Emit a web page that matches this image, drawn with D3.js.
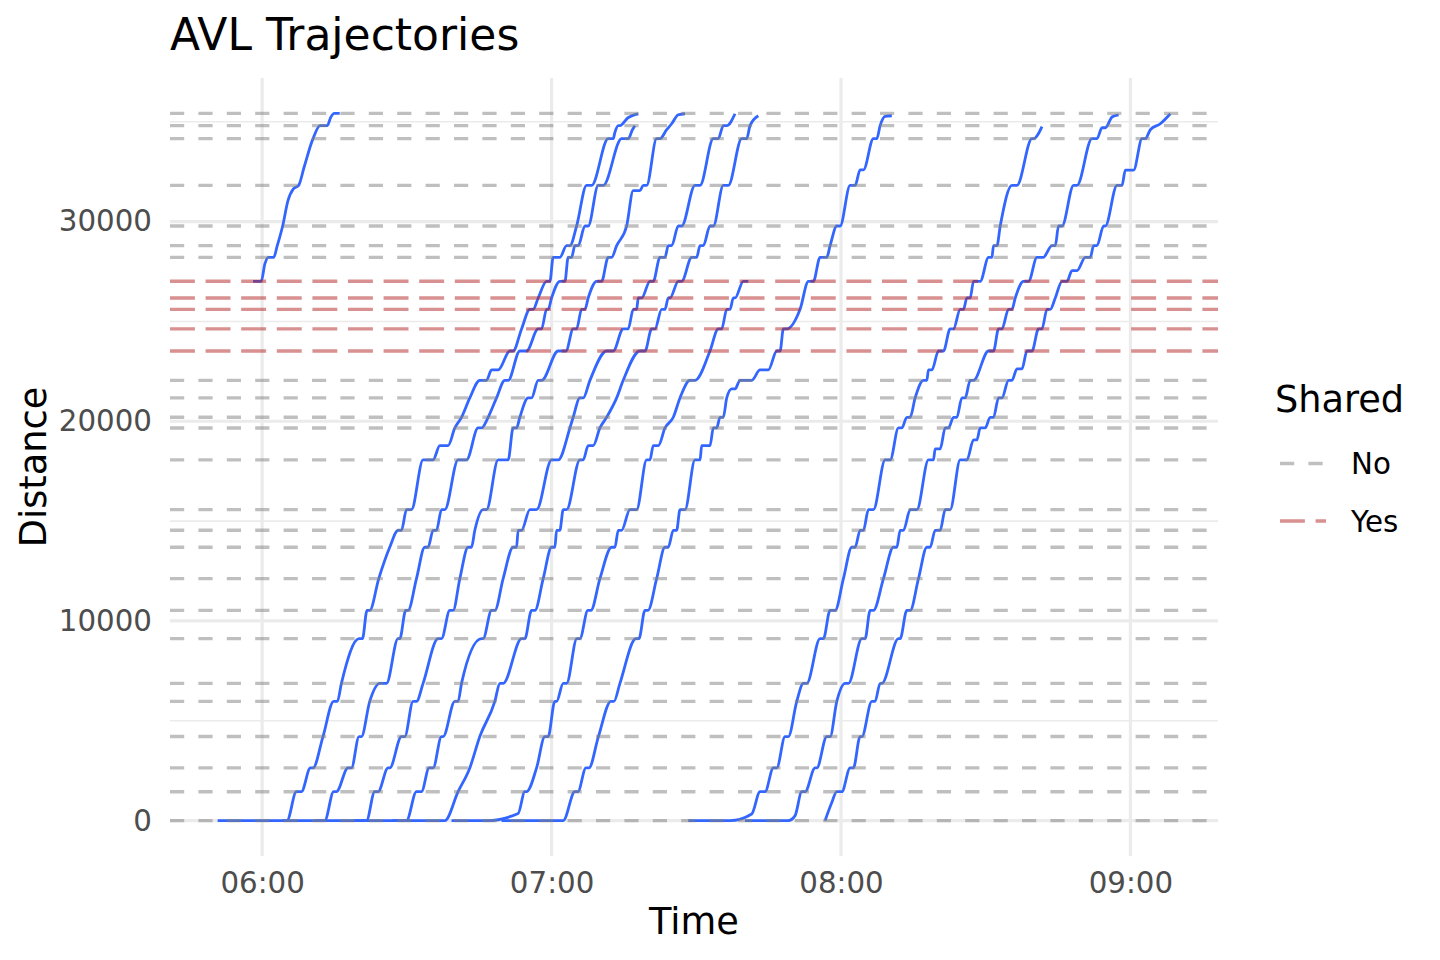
<!DOCTYPE html>
<html>
<head>
<meta charset="utf-8">
<script src="https://cdn.jsdelivr.net/npm/d3@7"></script>
<style>
  body { margin: 0; background: #fff; }
  text { font-family: "DejaVu Sans", sans-serif; }
</style>
</head>
<body>
<div id="chart"></div>
<script>
// stop positions along the route (distance) and whether the stop is shared
var stopDist = [0, 1450, 2640, 4210, 5975, 6875, 9115, 10530, 12120, 13690, 14540, 15575,
  18065, 19665, 20200, 21170, 22050, 23520, 24625, 25605, 26175, 27010,
  28210, 28795, 29780, 31815, 34155, 34805, 35420];
var stopShared = ["No", "No", "No", "No", "No", "No", "No", "No", "No", "No", "No", "No",
  "No", "No", "No", "No", "No", "Yes", "Yes", "Yes", "Yes", "Yes",
  "No", "No", "No", "No", "No", "No", "No"];

var sharedLevels = ["No", "Yes"];
var timeLabels = ["06:00", "07:00", "08:00", "09:00"];
var distTicks = [0, 10000, 20000, 30000];

// AVL trips: [minutes after 06:00, distance]
var trip01 = [[-1.89,27010],[-0.19,27010],[0.56,27880],[1.29,28210],[2.39,28210],[3.13,28795],[4.25,29780],[5.35,31050],[6.47,31640],[7.57,31815],[8.69,32720],[10.54,34155],[12.01,34805],[13.51,34805],[14.21,35220],[14.98,35420],[16.08,35420]];
var trip02 = [[-9.23,0],[5.15,0],[7.10,1450],[8.13,1450],[10.00,2640],[10.54,2640],[12.61,4210],[14.83,5975],[15.60,5975],[16.43,6875],[20.08,9115],[20.79,9115],[21.74,10530],[22.30,10530],[24.17,12120],[26.45,13690],[28.17,14540],[28.88,14540],[29.92,15575],[30.95,15575],[33.36,18065],[35.44,18065],[36.83,18780],[38.55,18780],[39.94,19665],[41.33,20200],[43.05,21170],[45.12,22050],[46.51,22050],[47.55,22570],[48.92,22570],[51.35,23520],[52.03,23520],[53.78,24625],[55.50,25605],[56.18,25605],[57.22,26175],[58.96,27010],[59.65,27010],[60.33,28210],[61.72,28210],[63.11,28795],[63.80,28795],[65.19,29780],[67.26,31815],[68.30,31815],[71.74,34155],[72.78,34155],[73.13,34470],[73.82,34805],[74.17,34805],[75.83,35200],[77.97,35400]];
var trip03 = [[4.25,0],[12.97,0],[14.83,1450],[15.39,1450],[17.80,2640],[18.51,2640],[20.08,4210],[20.58,4210],[22.30,5975],[24.38,6875],[25.77,6875],[28.17,9115],[28.53,9115],[29.77,10530],[30.25,10530],[31.99,12120],[33.71,13690],[34.40,13690],[35.44,14540],[36.14,14540],[37.18,15575],[37.86,15575],[40.62,18065],[42.37,18065],[44.77,19665],[45.48,19665],[46.85,20200],[48.59,21170],[50.31,22050],[51.00,22050],[53.42,23520],[54.81,23520],[57.22,24625],[57.93,24625],[58.96,25605],[59.29,25605],[60.00,26175],[61.72,27010],[62.76,27010],[63.44,28210],[64.15,28210],[64.83,28795],[65.52,28795],[66.91,29780],[67.59,29780],[69.67,31815],[70.71,31815],[74.52,34155],[75.89,34155],[76.76,34600],[77.28,34805]];
var trip04 = [[11.00,0],[21.62,0],[23.34,1450],[24.02,1450],[26.10,2640],[26.45,2640],[28.88,4210],[29.56,4210],[31.29,5975],[31.99,5975],[33.36,6875],[36.47,9115],[37.18,9115],[38.90,10530],[39.59,10530],[40.98,12120],[42.70,13690],[43.40,13690],[44.09,14540],[45.81,15575],[46.51,15575],[48.92,18065],[51.00,18065],[52.03,19665],[52.74,19665],[53.42,20200],[55.15,21170],[55.85,21170],[57.22,22050],[57.93,22050],[61.37,23520],[62.97,23520],[64.48,24625],[65.19,24625],[66.22,25605],[66.91,25605],[67.59,26175],[69.34,27010],[70.37,27010],[71.74,28210],[72.45,28210],[73.49,28795],[75.56,29780],[76.93,31550],[78.32,31550],[79.00,31815],[79.71,31815],[81.78,34155],[82.47,34155],[83.86,34600],[84.90,34900],[86.27,35350],[87.66,35400]];
var trip05 = [[19.00,0],[29.92,0],[31.99,1450],[33.03,1450],[34.61,2640],[35.44,2640],[37.18,4210],[37.51,4210],[39.94,5975],[40.62,5975],[41.33,6875],[45.48,9115],[45.81,9115],[47.55,10530],[48.24,10530],[49.96,12120],[52.03,13690],[52.74,13690],[53.07,14540],[53.78,14540],[55.50,15575],[56.89,15575],[60.00,18065],[61.37,18065],[63.80,19665],[64.48,20200],[65.87,21170],[66.56,21170],[67.95,22050],[71.41,23520],[72.78,23520],[74.85,24625],[75.89,24625],[76.93,25605],[77.63,25605],[77.97,26175],[78.67,26175],[80.39,27010],[81.08,27010],[82.47,28210],[83.51,28210],[84.19,28795],[84.90,28795],[86.27,29780],[86.97,29780],[89.73,31815],[90.77,31815],[93.53,34155],[94.56,34155],[95.60,34805],[96.31,34805],[98.03,35400]];
var trip06 = [[27.00,0],[37.86,0],[40.62,1450],[43.05,2640],[45.12,4210],[48.24,5975],[49.27,6875],[49.96,6875],[53.78,9115],[54.46,9115],[55.85,10530],[56.54,10530],[58.26,12120],[60.00,13690],[60.68,13690],[61.04,14540],[61.72,14540],[62.41,15575],[63.11,15575],[65.87,18065],[66.56,18065],[67.59,18780],[68.63,18780],[70.02,19665],[71.41,20200],[73.49,21170],[74.85,22050],[78.32,23520],[79.36,23520],[80.75,24625],[81.43,24625],[82.82,25605],[83.51,25605],[84.19,26175],[84.54,26175],[86.27,27010],[86.97,27010],[89.05,28210],[90.08,28210],[90.77,28795],[91.45,28795],[92.84,29780],[93.53,29780],[95.60,31815],[96.64,31815],[99.42,34155],[100.46,34155],[101.14,34805],[102.86,35300]];
var trip07 = [[39.25,0],[46.51,0],[53.07,360],[54.46,1450],[54.81,1450],[56.89,2640],[58.61,4210],[59.29,4210],[60.68,5975],[61.04,5975],[62.41,6875],[63.11,6875],[65.25,9115],[65.87,9115],[67.53,10530],[68.15,10530],[70.02,12120],[72.45,13690],[73.13,13690],[73.82,14540],[74.52,14540],[76.24,15575],[77.63,15575],[79.71,18065],[80.39,18065],[81.08,18780],[82.12,18780],[83.51,19665],[85.23,20200],[86.62,21170],[88.69,22050],[89.73,22050],[92.84,23520],[94.56,24625],[95.27,24625],[96.31,25605],[96.99,25605],[97.68,26175],[98.03,26175],[99.75,27010],[100.79,27010]];
var trip08 = [[49.63,0],[62.41,0],[64.83,1450],[65.46,1450],[67.12,2640],[67.74,2640],[69.71,4210],[72.30,5975],[72.93,5975],[74.17,6875],[77.49,9115],[78.11,9115],[79.36,10530],[79.98,10530],[81.78,12120],[83.51,13690],[84.19,13690],[85.23,14540],[85.93,14540],[86.62,15575],[87.66,15575],[89.73,18065],[90.77,18065],[91.12,18780],[92.84,18780],[93.53,19665],[94.23,19665],[94.92,20200],[95.60,20200],[96.31,21170],[97.34,21620],[98.03,21620],[99.07,22050],[101.49,22050],[103.22,22570],[104.94,22570],[106.68,23520],[107.37,23520],[108.05,24625],[108.76,24625],[111.51,25605],[113.24,27010],[114.27,27010],[115.66,28210],[117.05,28210],[117.74,28795],[119.13,29780],[119.81,29780],[121.89,31815],[122.93,31815],[123.96,32590],[124.65,32590],[126.72,34155],[127.43,34155],[128.11,34805],[129.15,35270],[130.54,35300]];
var trip09 = [[88.34,0],[96.99,0],[101.49,335],[103.22,1450],[104.25,1450],[105.98,2640],[106.68,2640],[108.40,4210],[109.09,4210],[110.83,5975],[112.20,6875],[112.90,6875],[115.66,9115],[116.35,9115],[117.74,10530],[118.78,10530],[120.50,12120],[122.24,13690],[122.93,13690],[123.96,14540],[124.65,14540],[125.68,15575],[126.72,15575],[129.15,18065],[130.19,18065],[131.91,19665],[132.61,19665],[133.65,20200],[134.34,20200],[135.37,21170],[137.10,22050],[137.80,22050],[138.13,22570],[138.84,22570],[140.21,23520],[141.24,23520],[142.63,24625],[143.32,24625],[144.71,25605],[145.39,25605],[146.10,26175],[146.78,26175],[147.47,27010],[148.86,27010],[150.58,28210],[151.29,28210],[151.62,28795],[152.32,28795],[153.01,29780],[155.44,31815],[156.47,31815],[159.59,34155],[159.92,34155],[161.66,34760]];
var trip10 = [[100.10,0],[109.09,0],[110.48,250],[111.87,1450],[112.55,1450],[114.63,2640],[114.98,2640],[117.05,4210],[117.74,4210],[119.13,5975],[120.85,6875],[121.54,6875],[124.32,9115],[125.00,9115],[126.04,10530],[126.72,10530],[128.80,12120],[130.87,13690],[131.58,13690],[132.26,14540],[132.95,14540],[134.34,15575],[135.73,15575],[138.13,18065],[139.17,18065],[139.52,18615],[140.56,18615],[141.60,19665],[142.28,19665],[143.32,20200],[144.02,20200],[145.06,21170],[145.75,21170],[146.78,22050],[147.47,22050],[150.58,23520],[151.62,23520],[152.66,24625],[153.36,24625],[154.73,25605],[155.44,25605],[156.12,26175],[157.84,27010],[158.88,27010],[160.62,28210],[161.93,28210],[163.73,28795],[164.42,28795],[165.10,29780],[165.81,29780],[168.22,31815],[168.92,31815],[172.03,34155],[173.07,34155],[174.11,34700],[174.79,34700],[176.24,35250],[177.55,35350]];
var trip11 = [[116.70,0],[118.09,907],[119.13,1450],[120.17,1450],[121.89,2640],[122.57,2640],[123.96,4210],[124.32,4210],[126.39,5975],[127.07,5975],[128.11,6875],[128.46,6875],[131.91,9115],[132.26,9115],[133.65,10530],[134.34,10530],[136.06,12120],[137.80,13690],[138.49,13690],[139.52,14540],[140.56,14540],[141.60,15575],[142.63,15575],[144.71,18065],[146.10,18065],[147.47,19065],[148.17,19065],[148.86,19665],[149.90,19665],[150.93,20200],[151.62,20200],[152.66,21170],[153.36,21170],[154.73,22050],[155.44,22050],[156.47,22620],[157.51,22620],[158.55,23520],[159.59,23520],[160.95,24625],[161.66,24625],[162.70,25605],[163.38,25605],[164.42,26175],[165.81,27010],[166.85,27010],[167.88,27540],[168.92,27540],[170.64,28210],[171.68,28210],[172.37,28795],[173.07,28795],[174.44,29780],[174.79,29780],[177.22,31815],[178.26,31815],[178.94,32580],[180.66,32580],[182.41,34155],[183.09,34155],[184.13,34600],[186.20,34900],[188.28,35400]];

var trips = [trip01, trip02, trip03, trip04, trip05, trip06, trip07, trip08, trip09, trip10, trip11];

function drawChart(){
    var margin = {top: 78, right: 222, bottom: 104, left: 170},
      width = 1440 - margin.left - margin.right,
      height = 960 - margin.top - margin.bottom;

    var parseTime = d3.timeParse("%H:%M");
    var t0 = parseTime(timeLabels[0]);
    function toTime(m) { return new Date(t0.getTime() + m * 60000); }

    // ggplot style 5% expansion
    var tExt = d3.extent(d3.merge(trips), function(d) { return d[0]; });
    var tPad = (tExt[1] - tExt[0]) * 0.05;
    var yMax = Math.max(d3.max(stopDist), d3.max(d3.merge(trips), function(d) { return d[1]; }));
    var yPad = yMax * 0.05;

    var xScale = d3.scaleTime()
      .domain([toTime(tExt[0] - tPad), toTime(tExt[1] + tPad)])
      .range([0, width]);
    var yScale = d3.scaleLinear()
      .domain([-yPad, yMax + yPad])
      .range([height, 0]);

    var xMajor = timeLabels.map(parseTime);
    var xMinor = d3.timeMinute.every(60).range(d3.timeMinute.offset(xMajor[0], -30), xScale.domain()[1])
      .filter(function(d) { return d >= xScale.domain()[0] && d.getMinutes() == 30; });
    var yStep = distTicks[1] - distTicks[0];
    var yMinor = d3.range(distTicks[0] - yStep / 2, yScale.domain()[1], yStep)
      .filter(function(v) { return v >= yScale.domain()[0]; });

    var svg = d3.select("#chart").append("svg")
      .attr("width", 1440)
      .attr("height", 960)
      .style("background", "#fff");

    var g = svg.append("g")
      .attr("transform", "translate(" + margin.left + "," + margin.top + ")");

    // grid
    var grid = g.append("g").attr("stroke", "#ebebeb");
    grid.selectAll(".xminor").data(xMinor).enter().append("line")
      .attr("x1", function(d) { return xScale(d); }).attr("x2", function(d) { return xScale(d); })
      .attr("y1", 0).attr("y2", height).attr("stroke-width", 1.6);
    grid.selectAll(".yminor").data(yMinor).enter().append("line")
      .attr("y1", function(d) { return yScale(d); }).attr("y2", function(d) { return yScale(d); })
      .attr("x1", 0).attr("x2", width).attr("stroke-width", 1.6);
    grid.selectAll(".xmajor").data(xMajor).enter().append("line")
      .attr("x1", function(d) { return xScale(d); }).attr("x2", function(d) { return xScale(d); })
      .attr("y1", 0).attr("y2", height).attr("stroke-width", 3.2);
    grid.selectAll(".ymajor").data(distTicks).enter().append("line")
      .attr("y1", function(d) { return yScale(d); }).attr("y2", function(d) { return yScale(d); })
      .attr("x1", 0).attr("x2", width).attr("stroke-width", 3.2);

    // axis-x
    var ax = g.append("g")
      .attr("transform", "translate(0," + height + ")")
      .call(d3.axisBottom(xScale).tickValues(xMajor).tickFormat(d3.timeFormat("%H:%M")).tickSize(0).tickPadding(16));
    // axis-y
    var ay = g.append("g")
      .call(d3.axisLeft(yScale).tickValues(distTicks).tickFormat(d3.format("d")).tickSize(0).tickPadding(18));
    [ax, ay].forEach(function(a) {
      a.select(".domain").remove();
      a.selectAll("text")
        .attr("font-family", "DejaVu Sans")
        .attr("font-size", "29.3px")
        .attr("fill", "#4d4d4d");
    });

    // trajectories
    var line = d3.line()
      .x(function(d) { return xScale(toTime(d[0])); })
      .y(function(d) { return yScale(d[1]); })
      .curve(d3.curveMonotoneX);

    g.append("g").selectAll("path")
      .data(trips)
      .enter().append("path")
      .attr("d", line)
      .attr("fill", "none")
      .attr("stroke", "#3366FF")
      .attr("stroke-width", 2.8)
      .attr("stroke-linejoin", "round");

    // stop lines (drawn on top, semi transparent)
    var colour = d3.scaleOrdinal().domain(sharedLevels).range(["#7f7f7f", "#b22222"]);
    var dash = d3.scaleOrdinal().domain(sharedLevels).range(["14.2,14.2", "24.9,10.7"]);

    g.append("g").selectAll("line")
      .data(stopDist)
      .enter().append("line")
      .attr("x1", 0).attr("x2", width)
      .attr("y1", function(d) { return yScale(d); })
      .attr("y2", function(d) { return yScale(d); })
      .attr("stroke", function(d, i) { return colour(stopShared[i]); })
      .attr("stroke-dasharray", function(d, i) { return dash(stopShared[i]); })
      .attr("stroke-opacity", 0.5)
      .attr("stroke-width", 3.4);

    // titles
    svg.append("text")
      .attr("x", margin.left).attr("y", 50)
      .attr("font-size", "44px")
      .text("AVL Trajectories");
    svg.append("text")
      .attr("x", margin.left + width / 2).attr("y", 934)
      .attr("text-anchor", "middle")
      .attr("font-size", "36.7px")
      .text("Time");
    svg.append("text")
      .attr("transform", "translate(46," + (margin.top + height / 2) + ") rotate(-90)")
      .attr("text-anchor", "middle")
      .attr("font-size", "36.7px")
      .text("Distance");

    // legend
    var legend = svg.append("g").attr("transform", "translate(1275,0)");
    legend.append("text")
      .attr("x", 0).attr("y", 412)
      .attr("font-size", "36.7px")
      .text("Shared");
    var keys = legend.selectAll(".key")
      .data(sharedLevels)
      .enter().append("g")
      .attr("transform", function(d, i) { return "translate(0," + (463.5 + i * 57.5) + ")"; });
    keys.append("line")
      .attr("x1", 5).attr("x2", 51)
      .attr("stroke", function(d) { return colour(d); })
      .attr("stroke-opacity", 0.5)
      .attr("stroke-dasharray", function(d) { return dash(d); })
      .attr("stroke-width", 3.4);
    keys.append("text")
      .attr("x", 76).attr("y", 10.5)
      .attr("font-size", "29.3px")
      .text(function(d) { return d; });
}

drawChart();
</script>
</body>
</html>
